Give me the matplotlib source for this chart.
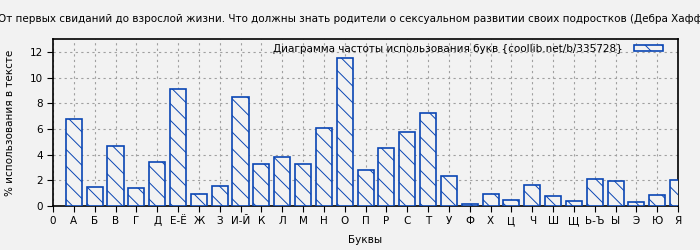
import numpy as np
import matplotlib
matplotlib.use("Agg")
import matplotlib.pyplot as plt

# letters and their share in the text, %
letters = ["0", "А", "Б", "В", "Г", "Д", "Е-Ё", "Ж", "З", "И-Й", "К", "Л", "М",
           "Н", "О", "П", "Р", "С", "Т", "У", "Ф", "Х", "Ц", "Ч", "Ш", "Щ",
           "Ь-Ъ", "Ы", "Э", "Ю", "Я"]
freq = [6.78, 1.48, 4.65, 1.40, 3.40, 9.09, 0.91, 1.53, 8.47, 3.25, 3.79, 3.25,
        6.05, 11.51, 2.78, 4.49, 5.74, 7.27, 2.31, 0.13, 0.91, 0.44, 1.61,
        0.75, 0.36, 2.08, 1.92, 0.28, 0.83, 2.00]

title = ("От первых свиданий до взрослой жизни. Что должны знать родители о "
         "сексуальном развитии своих подростков (Дебра Хаффнер)")
legend_label = "Диаграмма частоты использования букв {coollib.net/b/335728}"

bg = "#f2f2f2"
blue = "#0a46b4"
fs = 7.5
plt.rcParams["hatch.color"] = blue
plt.rcParams["hatch.linewidth"] = 0.7

fig = plt.figure(figsize=(7, 2.5), dpi=100, facecolor=bg)
ax = fig.add_axes([0.0757, 0.176, 0.893, 0.668], facecolor=bg)

x = np.arange(1, len(freq) + 1)
ax.bar(x, freq, width=0.77, facecolor=bg, edgecolor=blue, linewidth=1.2,
       hatch="\\\\", label=legend_label, zorder=3)

ax.set_xlim(0, 30)
ax.set_ylim(0, 13)
ax.set_xticks(range(len(letters)))
ax.set_xticklabels(letters, fontsize=fs)
ax.set_yticks(range(0, 13, 2))
ax.tick_params(axis="y", labelsize=fs, length=4)
ax.tick_params(axis="x", length=4)
ax.grid(True, color="#a0a0a0", ls=(0, (2, 3)), lw=0.8, zorder=0)
for s in ax.spines.values():
    s.set_linewidth(1.2)

ax.set_xlabel("Буквы", fontsize=fs, labelpad=6)
ax.set_ylabel("% использования в тексте", fontsize=fs, labelpad=10)

fig.text(-0.003, 0.924, title, fontsize=fs, ha="left", va="center")

leg = ax.legend(loc="upper right", bbox_to_anchor=(0.982, 0.996),
                frameon=False, markerfirst=False,
                fontsize=fs, handlelength=2.8, handleheight=0.6,
                borderaxespad=0.0, handletextpad=1.05)

fig.savefig("out.png", dpi=100, facecolor=bg)
